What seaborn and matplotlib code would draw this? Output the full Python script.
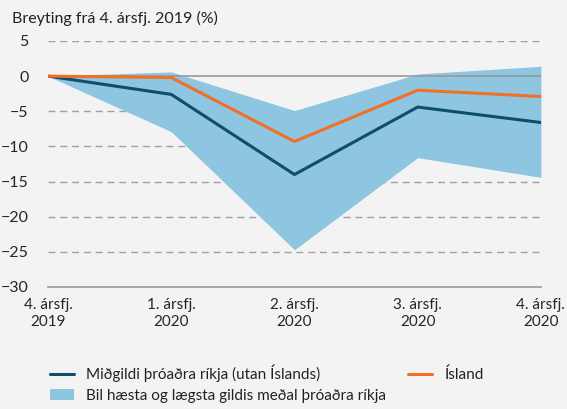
import seaborn as sns
import matplotlib.pyplot as plt
import pandas as pd
from matplotlib.patches import Patch
from matplotlib.lines import Line2D

# Data
quarters = ['4. ársfj.\n2019', '1. ársfj.\n2020', '2. ársfj.\n2020', '3. ársfj.\n2020', '4. ársfj.\n2020']
median_adv = [0.0, -2.6, -14.0, -4.4, -6.6]
iceland = [0.0, -0.2, -9.3, -2.0, -2.9]
band_high = [0.0, 0.6, -4.9, 0.3, 1.4]
band_low = [0.0, -7.9, -24.7, -11.6, -14.4]

BG = '#f3f3f3'
DARK = '#0d4f6b'
ORANGE = '#f26f25'
LIGHT = '#8ec5e0'
GRID = '#a0a0a0'

sns.set_theme(style='white')
plt.rcParams['font.family'] = ['Lato', 'DejaVu Sans']
plt.rcParams['text.color'] = '#222222'

df = pd.DataFrame({
    'x': list(range(len(quarters))) * 2,
    'value': median_adv + iceland,
    'series': ['median'] * len(quarters) + ['iceland'] * len(quarters),
})

fig = plt.figure(figsize=(5.67, 4.09), dpi=100, facecolor=BG)
ax = fig.add_axes([0.0847, 0.2983, 0.954 - 0.0847, 0.8998 - 0.2983])
ax.set_facecolor(BG)

x = range(len(quarters))
ax.fill_between(x, band_low, band_high, color=LIGHT, lw=0, zorder=1)
for y in [5, -5, -10, -15, -20, -25]:
    ax.axhline(y, color=GRID, lw=1, ls=(0, (5, 3.5)), zorder=0.5)
ax.axhline(0, color='#9a9a9a', lw=1.2, zorder=1.5)

sns.lineplot(data=df, x='x', y='value', hue='series',
             palette={'median': DARK, 'iceland': ORANGE},
             linewidth=2.2, legend=False, ax=ax, zorder=3)

ax.set_xlim(0, len(quarters) - 1)
ax.set_ylim(-30, 5)
ax.set_yticks([5, 0, -5, -10, -15, -20, -25, -30])
ax.set_xticks(list(x))
ax.set_xticklabels(quarters, fontsize=11, linespacing=1.25)
ax.tick_params(axis='y', length=0, pad=14, labelsize=11.5)
ax.tick_params(axis='x', length=6, width=1, color='#9a9a9a', pad=2)
ax.set_xlabel('')
ax.set_ylabel('')

for side in ['left', 'right', 'top']:
    ax.spines[side].set_visible(False)
ax.spines['bottom'].set_color('#9a9a9a')
ax.spines['bottom'].set_linewidth(1.2)

fig.text(12 / 567, 1 - 18 / 409, 'Breyting frá 4. ársfj. 2019 (%)',
         fontsize=11.5, va='center', ha='left')

handles = [
    Line2D([], [], color=DARK, lw=2.2),
    Patch(facecolor=LIGHT, edgecolor='none'),
    Line2D([], [], color=ORANGE, lw=2.2),
]
labels = [
    'Miðgildi þróaðra ríkja (utan Íslands)',
    'Bil hæsta og lægsta gildis meðal þróaðra ríkja',
    'Ísland',
]
fig.legend(handles, labels, ncol=2, frameon=False, fontsize=11,
           loc='upper left', bbox_to_anchor=(36 / 567, 1 - 351 / 409),
           handlelength=1.6, handletextpad=0.8, columnspacing=1.4,
           labelspacing=0.45)

fig.savefig('out.png', dpi=100, facecolor=BG)
